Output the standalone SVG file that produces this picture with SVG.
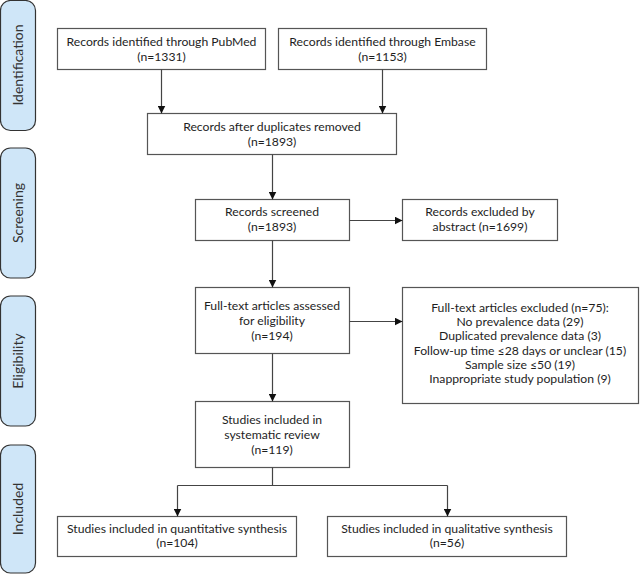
<svg xmlns="http://www.w3.org/2000/svg" width="640" height="575" viewBox="0 0 640 575">
<defs>
<marker id="ah" viewBox="0 0 10 10" refX="10" refY="5" markerWidth="8" markerHeight="8" markerUnits="userSpaceOnUse" orient="auto">
<path d="M0,0 L10,5 L0,10 z" fill="#111"/>
</marker>
<style>
text{font-family:Lato,"Noto Sans","DejaVu Sans",sans-serif;font-size:12.2px;fill:#1e1e1e;text-anchor:middle}
.box{fill:#fff;stroke:#555;stroke-width:1.2}
.side rect{fill:#cfe6f8;stroke:#333;stroke-width:1.2}
.side text{font-size:14px;fill:#333}
.conn line,.conn path{stroke:#444;stroke-width:1.2;fill:none}
</style>
</defs>
<rect width="640" height="575" fill="#fff"/>
<g id="phase-identification" class="side"><rect x="0.5" y="0.5" width="35" height="130" rx="10"/><text transform="translate(23,65) rotate(-90)">Identification</text></g>
<g id="phase-screening" class="side"><rect x="0.5" y="148" width="35" height="130" rx="10"/><text transform="translate(23,213) rotate(-90)">Screening</text></g>
<g id="phase-eligibility" class="side"><rect x="0.5" y="296" width="35" height="130" rx="10"/><text transform="translate(23,361) rotate(-90)">Eligibility</text></g>
<g id="phase-included" class="side"><rect x="0.5" y="445" width="35" height="128" rx="10"/><text transform="translate(23,509) rotate(-90)">Included</text></g>

<g id="pubmed"><rect class="box" x="57.5" y="28.5" width="208" height="41"/><text x="161.5" y="46">Records identified through PubMed</text><text x="161.5" y="61">(n=1331)</text></g>
<g id="embase"><rect class="box" x="278.5" y="28.5" width="208" height="41"/><text x="382.5" y="46">Records identified through Embase</text><text x="382.5" y="61">(n=1153)</text></g>
<g id="duplicates"><rect class="box" x="147.5" y="113.5" width="249" height="41"/><text x="272" y="131">Records after duplicates removed</text><text x="272" y="146">(n=1893)</text></g>
<g id="screened"><rect class="box" x="195.5" y="199.5" width="154" height="41"/><text x="272" y="216">Records screened</text><text x="272" y="231">(n=1893)</text></g>
<g id="excluded-abstract"><rect class="box" x="402.5" y="199.5" width="155" height="41"/><text x="480" y="216">Records excluded by</text><text x="480" y="231">abstract (n=1699)</text></g>
<g id="fulltext"><rect class="box" x="195.5" y="287.5" width="154" height="66"/><text x="272" y="310">Full-text articles assessed</text><text x="272" y="325">for eligibility</text><text x="272" y="340">(n=194)</text></g>
<g id="excluded-fulltext"><rect class="box" x="402.5" y="287.5" width="236" height="116"/><text x="520" y="312">Full-text articles excluded (n=75):</text><text x="520" y="326">No prevalence data (29)</text><text x="520" y="340">Duplicated prevalence data (3)</text><text x="520" y="354.5">Follow-up time ≤28 days or unclear (15)</text><text x="520" y="368.5">Sample size ≤50 (19)</text><text x="520" y="382.5">Inappropriate study population (9)</text></g>
<g id="systematic"><rect class="box" x="195.5" y="401.5" width="154" height="66"/><text x="272" y="424">Studies included in</text><text x="272" y="439">systematic review</text><text x="272" y="453.5">(n=119)</text></g>
<g id="quantitative"><rect class="box" x="57.5" y="516.5" width="239" height="40"/><text x="177" y="533">Studies included in quantitative synthesis</text><text x="177" y="547">(n=104)</text></g>
<g id="qualitative"><rect class="box" x="327.5" y="516.5" width="239" height="40"/><text x="447" y="533">Studies included in qualitative synthesis</text><text x="447" y="547">(n=56)</text></g>

<g id="connectors" class="conn">
<line x1="161.5" y1="69.5" x2="161.5" y2="113.5" marker-end="url(#ah)"/>
<line x1="382.5" y1="69.5" x2="382.5" y2="113.5" marker-end="url(#ah)"/>
<line x1="272.5" y1="154.5" x2="272.5" y2="199.5" marker-end="url(#ah)"/>
<line x1="349.5" y1="220.5" x2="402.5" y2="220.5" marker-end="url(#ah)"/>
<line x1="272.5" y1="240.5" x2="272.5" y2="287.5" marker-end="url(#ah)"/>
<line x1="349.5" y1="321.5" x2="402.5" y2="321.5" marker-end="url(#ah)"/>
<line x1="272.5" y1="353.5" x2="272.5" y2="401.5" marker-end="url(#ah)"/>
<path d="M272.5,467.5 V485.5 M177.5,485.5 H447.5"/>
<line x1="177.5" y1="485.5" x2="177.5" y2="516.5" marker-end="url(#ah)"/>
<line x1="447.5" y1="485.5" x2="447.5" y2="516.5" marker-end="url(#ah)"/>
</g>
</svg>
